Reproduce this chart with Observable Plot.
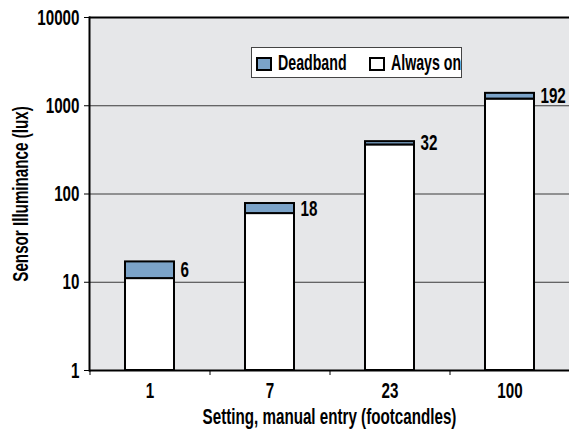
<!DOCTYPE html>
<html><head><meta charset="utf-8">
<script src="https://cdn.jsdelivr.net/npm/d3@7"></script>
<script src="https://cdn.jsdelivr.net/npm/@observablehq/plot@0.6"></script>
<style>
body{margin:0;background:#fff;}
#wrap{position:relative;width:569px;height:434px;font-family:"Liberation Sans",Arial,sans-serif;font-weight:bold;}
.legend{position:absolute;left:251px;top:47px;width:211px;height:31px;box-sizing:border-box;border:1px solid #444;background:#fff;font-size:22px;color:#000;white-space:nowrap;}
.sw{position:absolute;top:9px;width:16px;height:14px;box-sizing:border-box;border:2px solid #000;}
.lt{position:absolute;top:2px;line-height:26px;transform:scaleX(0.645);transform-origin:0 50%;}
</style>
</head><body>
<div id="wrap"></div>
<script>
const settings = ["1", "7", "23", "100"];
const alwaysOn = [11, 60, 360, 1190];
const deadband = [6, 18, 32, 192];
const yTicks = [1, 10, 100, 1000, 10000];
const gridVals = [10, 100, 1000];
const seriesNames = ["Deadband", "Always on"];
const seriesColors = ["#7ba3c8", "#ffffff"];

const rows = settings.map((s, i) => ({setting: s, aon: alwaysOn[i], db: deadband[i], total: alwaysOn[i] + deadband[i]}));

const font = '"Liberation Sans",Arial,sans-serif';
const condense = 0.69;
const W = 569, ML = 89, MR = 0;
const step = (W - ML - MR) / settings.length;
const padInner = 0.592;
const bw = step * (1 - padInner);

const chart = Plot.plot({
  width: W, height: 434,
  marginLeft: ML, marginRight: MR, marginTop: 17, marginBottom: 64,
  style: {fontFamily: font, fontSize: "22px", fontWeight: "bold", color: "#000", background: "transparent", overflow: "visible"},
  x: {domain: settings, paddingInner: padInner, paddingOuter: padInner / 2},
  y: {type: "log", domain: [1, 10000]},
  marks: [
    Plot.frame({fill: "#e6e7e9", stroke: null}),
    Plot.ruleY(gridVals, {stroke: "#3a3a3a", strokeWidth: 1}),
    Plot.barY(rows, {x: "setting", y1: 1, y2: "aon", fill: seriesColors[1], stroke: "#000", strokeWidth: 2, inset: 0}),
    Plot.barY(rows, {x: "setting", y1: "aon", y2: "total", fill: seriesColors[0], stroke: "#000", strokeWidth: 2, inset: 0}),
    Plot.text(rows, {x: "setting", y: d => Math.sqrt(d.aon * d.total), text: d => String(d.db), dx: bw / 2 + 6, textAnchor: "start", fontSize: 22}),
    Plot.ruleY([10000], {stroke: "#000", strokeWidth: 2}),
    Plot.ruleY([1], {stroke: "#000", strokeWidth: 2}),
    Plot.frame({anchor: "left", stroke: "#000", strokeWidth: 2}),
    Plot.axisY({ticks: yTicks, tickFormat: d3.format("d"), tickSize: 5, tickPadding: 5, stroke: "#000",
      label: "Sensor Illuminance (lux)", labelAnchor: "center", labelArrow: "none", labelOffset: 77}),
    Plot.axisX({tickSize: 0, tickPadding: 12, label: "Setting, manual entry (footcandles)", labelAnchor: "center", labelArrow: "none", labelOffset: 53}),
    Plot.axisX({tickSize: 5, tickFormat: () => "", dx: -step / 2, label: null, stroke: "#000"})
  ]
});

// condensed lettering (the reference uses a condensed typeface)
chart.querySelectorAll("text").forEach(el => {
  const t = el.getAttribute("transform");
  if (t) el.setAttribute("transform", t + ` scale(${condense},1)`);
});

const wrap = document.getElementById("wrap");
wrap.appendChild(chart);
const leg = document.createElement("div");
leg.className = "legend";
const swLeft = [4, 117], txLeft = [26, 139];
seriesNames.forEach((n, i) => {
  const sw = document.createElement("span");
  sw.className = "sw";
  sw.style.left = swLeft[i] + "px";
  sw.style.background = seriesColors[i];
  leg.appendChild(sw);
  const tx = document.createElement("span");
  tx.className = "lt";
  tx.style.left = txLeft[i] + "px";
  tx.textContent = n;
  leg.appendChild(tx);
});
wrap.appendChild(leg);
</script>
</body></html>
